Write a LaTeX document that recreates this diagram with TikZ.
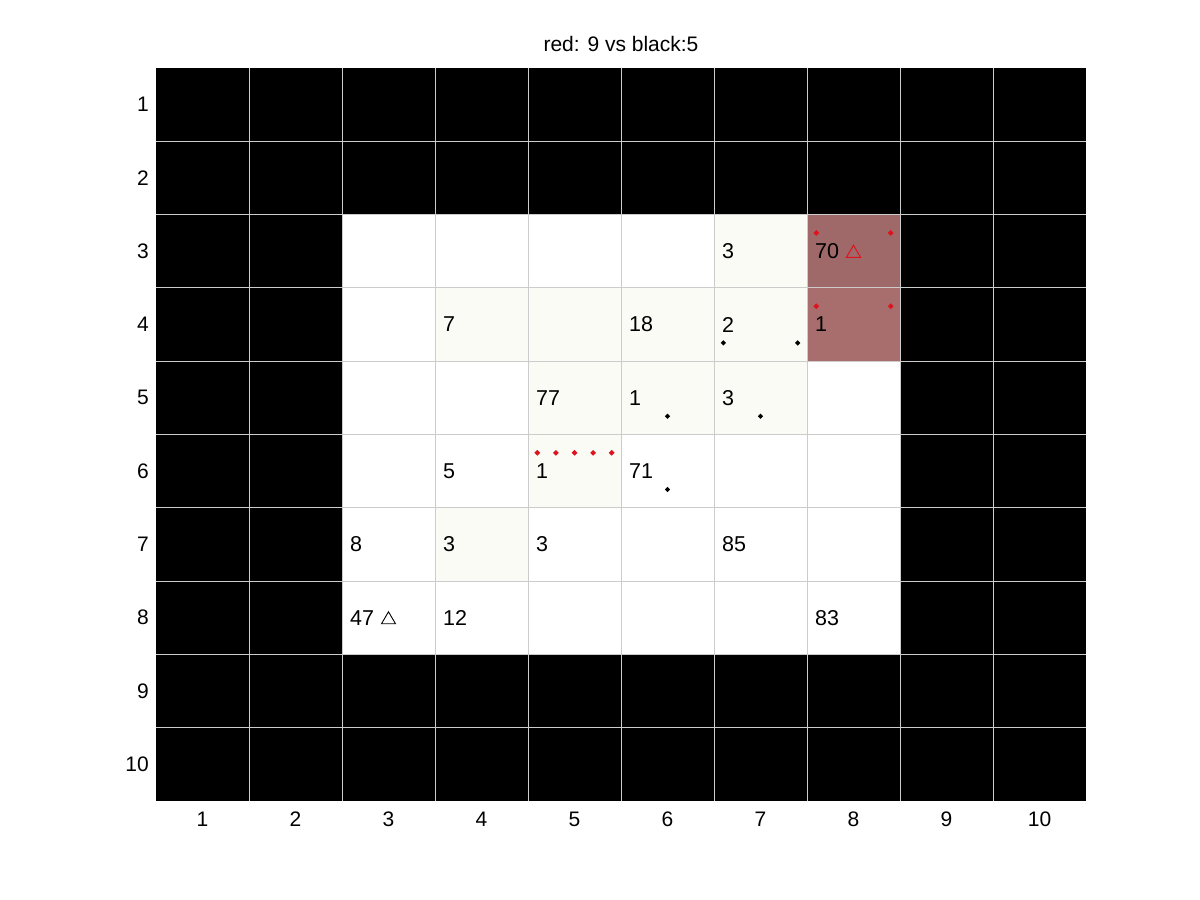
\documentclass[tikz,border=0pt]{standalone}
\usepackage{fontspec}
\setmainfont{Liberation Sans}
\usetikzlibrary{shapes.geometric}
\definecolor{gridgray}{RGB}{204,204,204}
\definecolor{tint}{RGB}{251,251,246}
\definecolor{redA}{RGB}{160,105,105}
\definecolor{redB}{RGB}{168,109,109}
\definecolor{dotred}{RGB}{220,20,30}
\tikzset{
  lbl/.style={anchor=west,inner sep=0pt,font=\fontsize{21.5}{24}\selectfont},
  ticklbl/.style={inner sep=0pt,font=\fontsize{21}{24}\selectfont},
  rdot/.style={diamond,fill=dotred,inner sep=0pt,minimum size=6pt},
  bdot/.style={diamond,fill=black,inner sep=0pt,minimum size=5.5pt},
  gridline/.style={draw=gridgray,line width=1pt},
}
\begin{document}
\begin{tikzpicture}[x=1pt,y=-1pt]
\useasboundingbox (0,0) rectangle (1200,900);
\fill[white] (0,0) rectangle (1200,900);
\node[ticklbl] (title) at (621,44) {red: 9 vs black:5};
\begin{scope}[shift={(63pt,5.3pt)},x=93pt,y=-73.3pt]
  % background
  \fill[black] (1,1) rectangle (11,11);
  \fill[white] (3,3) rectangle (9,9);
  % tinted cells
  \foreach \c/\r in {7/3,4/4,5/4,6/4,7/4,5/5,6/5,7/5,5/6,4/7}
    \fill[tint] (\c,\r) rectangle ++(1,1);
  \fill[redA] (8,3) rectangle (9,4);
  \fill[redB] (8,4) rectangle (9,5);
  % grid
  \foreach \i in {2,...,10} {
    \draw[gridline] (\i,1) -- (\i,11);
    \draw[gridline] (1,\i) -- (11,\i);
  }
  % tick labels
  \foreach \i in {1,...,10} {
    \node[ticklbl,anchor=east] (yl\i) at ([xshift=-7pt]1,\i+0.5) {\i};
    \node[ticklbl] (xl\i) at ([yshift=-18.5pt]\i+0.5,11) {\i};
  }
  % cell numbers
  \foreach \c/\r/\t in {7/3/3,8/3/70,4/4/7,6/4/18,7/4/2,8/4/1,5/5/77,6/5/1,7/5/3,4/6/5,5/6/1,6/6/71,3/7/8,4/7/3,5/7/3,7/7/85,3/8/47,4/8/12,8/8/83}
    \node[lbl] (n\c-\r) at ([xshift=8pt]\c,\r+0.5) {\t};
  % triangles
  \draw[dotred,line width=1pt] ([xshift=-7pt,yshift=-6pt]8.5,3.5) coordinate (trA) -- ++(14pt,0) -- ++(-7pt,12pt) -- cycle;
  \draw[black,line width=0.9pt] ([xshift=-7pt,yshift=-6pt]3.5,8.5) coordinate (trB) -- ++(14pt,0) -- ++(-7pt,12pt) -- cycle;
  % red dots
  \node[rdot] (r1) at (8.1,3.25) {};
  \node[rdot] (r2) at (8.9,3.25) {};
  \node[rdot] (r3) at (8.1,4.25) {};
  \node[rdot] (r4) at (8.9,4.25) {};
  \foreach \k [count=\j] in {0.1,0.3,0.5,0.7,0.9}
    \node[rdot] (r6-\j) at (5+\k,6.25) {};
  % black dots
  \node[bdot] (b1) at (7.1,4.75) {};
  \node[bdot] (b2) at (7.9,4.75) {};
  \node[bdot] (b3) at (6.5,5.75) {};
  \node[bdot] (b4) at (7.5,5.75) {};
  \node[bdot] (b5) at (6.5,6.75) {};
\end{scope}
\end{tikzpicture}
\end{document}
